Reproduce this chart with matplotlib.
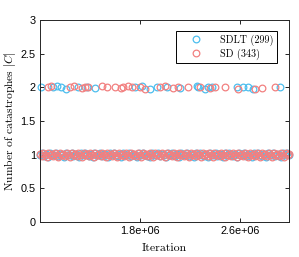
import matplotlib
matplotlib.use("Agg")
import matplotlib.pyplot as plt
from matplotlib.lines import Line2D

# ---- data (x in units of 1e4 iterations) ----
sdlt_label = "SDLT (299)"
sd_label = "SD (343)"

sdlt_twos_x = [100.8, 110.4, 113.6, 116.8, 120.8, 130.4, 137.6, 144, 176, 181.6, 188, 193.6,
               201.6, 212, 225.6, 226.4, 232, 234.4, 237.6, 257.6, 262.4, 266.4, 270.4, 292]
sdlt_twos_y = [2.0, 2.01, 2.02, 2.0, 1.98, 2.0, 2.01, 1.99, 2.0, 2.02, 1.98, 2.01,
               2.0, 1.99, 2.02, 2.0, 1.98, 2.01, 2.0, 2.0, 2.01, 2.0, 1.97, 2.01]

sd_twos_x = [106.4, 108.8, 124, 127.2, 133.6, 136, 138.4, 149.6, 153.6, 160, 164.8, 166.4, 170.4,
             173.6, 180, 184, 196, 200, 206.4, 210.4, 218.4, 228, 236, 240, 248, 258.4, 272, 277.6, 288]
sd_twos_y = [2.01, 2.02, 2.0, 2.02, 1.99, 2.01, 2.0, 2.02, 2.0, 2.01, 1.99, 2.0, 2.02,
             2.0, 2.01, 1.98, 2.0, 2.02, 1.99, 2.01, 2.0, 2.01, 1.99, 2.01, 2.0, 1.98, 1.97, 1.99, 2.0]

sdlt_ones = [(100.3,1.00),(101.8,1.03),(103.1,0.98),(104.9,1.01),(106.2,0.97),(107.7,1.02),(109.5,1.00),
(110.8,0.99),(112.6,1.03),(114.0,0.98),(115.9,1.01),(117.1,1.00),(118.8,0.97),(120.5,1.02),(121.7,1.00),
(123.6,0.99),(125.2,1.03),(126.4,0.98),(128.3,1.01),(129.6,1.00),(131.4,0.97),(132.9,1.02),(134.3,0.99),
(136.0,1.03),(137.2,1.00),(139.1,0.98),(140.6,1.01),(142.2,0.97),(143.5,1.02),(145.3,1.00),(146.9,0.99),
(148.1,1.03),(149.8,0.98),(151.4,1.01),(152.7,1.00),(154.5,0.97),(155.9,1.02),(157.3,0.99),(159.0,1.03),
(160.4,1.00),(162.1,0.98),(163.8,1.01),(165.0,0.97),(166.7,1.02),(168.2,1.00),(169.9,0.99),(171.3,1.03),
(172.8,0.98),(174.4,1.01),(175.7,1.00),(177.5,0.97),(179.0,1.02),(180.6,0.99),(182.1,1.03),(183.5,1.00),
(185.2,0.98),(186.8,1.01),(188.3,0.97),(189.7,1.02),(191.4,1.00),(192.9,0.99),(194.2,1.03),(196.0,0.98),
(197.4,1.01),(198.9,1.00),(200.5,0.97),(202.0,1.02),(203.6,0.99),(205.1,1.03),(206.5,1.00),(208.2,0.98),
(209.6,1.01),(211.3,0.97),(212.8,1.02),(214.1,1.00),(215.9,0.99),(217.3,1.03),(218.8,0.98),(220.4,1.01),
(221.9,1.00),(223.3,0.97),(225.0,1.02),(226.4,0.99),(228.1,1.03),(229.5,1.00),(231.2,0.98),(232.6,1.01),
(234.3,0.97),(235.8,1.02),(237.2,1.00),(238.9,0.99),(240.3,1.03),(241.8,0.98),(243.5,1.01),(244.9,1.00),
(246.4,0.97),(248.0,1.02),(249.5,0.99),(251.1,1.03),(252.6,1.00),(254.2,0.98),(255.7,1.01),(257.3,0.97),
(258.8,1.02),(260.2,1.00),(261.9,0.99),(263.4,1.03),(264.8,0.98),(266.5,1.01),(268.0,1.00),(269.6,0.97),
(271.1,1.02),(272.5,0.99),(274.2,1.03),(275.7,1.00),(277.3,0.98),(278.8,1.01),(280.4,0.97),(281.9,1.02),
(283.3,1.00),(285.0,0.99),(286.6,1.03),(288.1,0.98),(289.5,1.01),(291.2,1.00),(292.7,0.97),(294.3,1.02),
(295.8,0.99),(297.4,1.03),(298.9,1.00)]

sd_ones = [(100.0,1.01),(101.2,0.98),(102.5,1.02),(103.9,1.00),(105.3,0.97),(106.6,1.03),(107.9,0.99),
(109.2,1.01),(110.5,0.98),(111.9,1.02),(113.3,1.00),(114.6,0.97),(115.8,1.03),(117.2,0.99),(118.5,1.01),
(119.9,0.98),(121.3,1.02),(122.6,1.00),(123.9,0.97),(125.4,1.03),(126.8,0.99),(128.0,1.01),(129.4,0.98),
(130.7,1.02),(132.1,1.00),(133.5,0.97),(134.8,1.03),(136.2,0.99),(137.5,1.01),(138.9,0.98),(140.2,1.02),
(141.6,1.00),(142.9,0.97),(144.3,1.03),(145.6,0.99),(147.0,1.01),(148.4,0.98),(149.7,1.02),(151.0,1.00),
(152.4,0.97),(153.8,1.03),(155.1,0.99),(156.5,1.01),(157.8,0.98),(159.2,1.02),(160.6,1.00),(161.9,0.97),
(163.3,1.03),(164.6,0.99),(166.0,1.01),(167.4,0.98),(168.7,1.02),(170.1,1.00),(171.4,0.97),(172.8,1.03),
(174.1,0.99),(175.5,1.01),(176.9,0.98),(178.2,1.02),(179.6,1.00),(180.9,0.97),(182.3,1.03),(183.7,0.99),
(185.0,1.01),(186.4,0.98),(187.7,1.02),(189.1,1.00),(190.5,0.97),(191.8,1.03),(193.2,0.99),(194.5,1.01),
(195.9,0.98),(197.3,1.02),(198.6,1.00),(200.0,0.97),(201.3,1.03),(202.7,0.99),(204.1,1.01),(205.4,0.98),
(206.8,1.02),(208.1,1.00),(209.5,0.97),(210.9,1.03),(212.2,0.99),(213.6,1.01),(214.9,0.98),(216.3,1.02),
(217.7,1.00),(219.0,0.97),(220.4,1.03),(221.7,0.99),(223.1,1.01),(224.5,0.98),(225.8,1.02),(227.2,1.00),
(228.5,0.97),(229.9,1.03),(231.3,0.99),(232.6,1.01),(234.0,0.98),(235.3,1.02),(236.7,1.00),(238.1,0.97),
(239.4,1.03),(240.8,0.99),(242.1,1.01),(243.5,0.98),(244.9,1.02),(246.2,1.00),(247.6,0.97),(248.9,1.03),
(250.3,0.99),(251.7,1.01),(253.0,0.98),(254.4,1.02),(255.7,1.00),(257.1,0.97),(258.5,1.03),(259.8,0.99),
(261.2,1.01),(262.5,0.98),(263.9,1.02),(265.3,1.00),(266.6,0.97),(268.0,1.03),(269.3,0.99),(270.7,1.01),
(272.1,0.98),(273.4,1.02),(274.8,1.00),(276.1,0.97),(277.5,1.03),(278.9,0.99),(280.2,1.01),(281.6,0.98),
(282.9,1.02),(284.3,1.00),(285.7,0.97),(287.0,1.03),(288.4,0.99),(289.7,1.01),(291.1,0.98),(292.5,1.02),
(293.8,1.00),(295.2,0.97),(296.5,1.03),(297.9,0.99),(299.0,1.01)]

x_ticks = [1.8e6, 2.6e6]
x_tick_labels = ["1.8e+06", "2.6e+06"]
y_ticks = [0, 0.5, 1, 1.5, 2, 2.5, 3]
y_tick_labels = ["0", "0.5", "1", "1.5", "2", "2.5", "3"]

# ---- styling ----
blue = "#4DBEEE"
red = "#F28080"
plt.rcParams["mathtext.fontset"] = "cm"
serif = "cmr10"
sans = "Liberation Sans"

fig = plt.figure(figsize=(2.99, 2.57), dpi=100)
ax = fig.add_axes([40/299, 1-222/257, 249/299, 202/257])

def xs(vals):
    return [v * 1e4 for v in vals]

b_x = xs(sdlt_twos_x) + xs([p[0] for p in sdlt_ones])
b_y = sdlt_twos_y + [p[1] for p in sdlt_ones]
r_x = xs(sd_twos_x) + xs([p[0] for p in sd_ones])
r_y = sd_twos_y + [p[1] for p in sd_ones]

ms = 4.8
mew = 0.9
ax.plot(b_x, b_y, linestyle="none", marker="o", markersize=ms, markerfacecolor="none",
        markeredgecolor=blue, markeredgewidth=mew, clip_on=False)
ax.plot(r_x, r_y, linestyle="none", marker="o", markersize=ms, markerfacecolor="none",
        markeredgecolor=red, markeredgewidth=mew, clip_on=False)

ax.set_xlim(1.0e6, 2.99e6)
ax.set_ylim(0, 3)
ax.set_xticks(x_ticks)
ax.set_xticklabels(x_tick_labels, fontname=sans, fontsize=7.8)
ax.set_yticks(y_ticks)
ax.set_yticklabels(y_tick_labels, fontname=sans, fontsize=7.8)
ax.tick_params(direction="in", top=True, right=True, length=3, width=0.6, pad=3)
for s in ax.spines.values():
    s.set_linewidth(0.7)
    s.set_color("#262626")

ax.set_xlabel("Iteration", fontname=serif, fontsize=8.5, labelpad=5)
ax.set_ylabel(r"Number of catastrophes $|C|$", fontname=serif, fontsize=8.3, labelpad=2)

handles = [Line2D([], [], linestyle="none", marker="o", markersize=ms, markerfacecolor="none",
                  markeredgecolor=blue, markeredgewidth=mew),
           Line2D([], [], linestyle="none", marker="o", markersize=ms, markerfacecolor="none",
                  markeredgecolor=red, markeredgewidth=mew)]
leg = ax.legend(handles, [sdlt_label, sd_label], loc="upper right", prop={"family": serif, "size": 7.3},
                frameon=True, fancybox=False, edgecolor="black", framealpha=1,
                borderpad=0.35, handletextpad=0.7, labelspacing=0.25, handlelength=3.3,
                borderaxespad=0, bbox_to_anchor=(0.952, 0.945))
leg.get_frame().set_linewidth(0.7)

fig.savefig("out.png", dpi=100)
